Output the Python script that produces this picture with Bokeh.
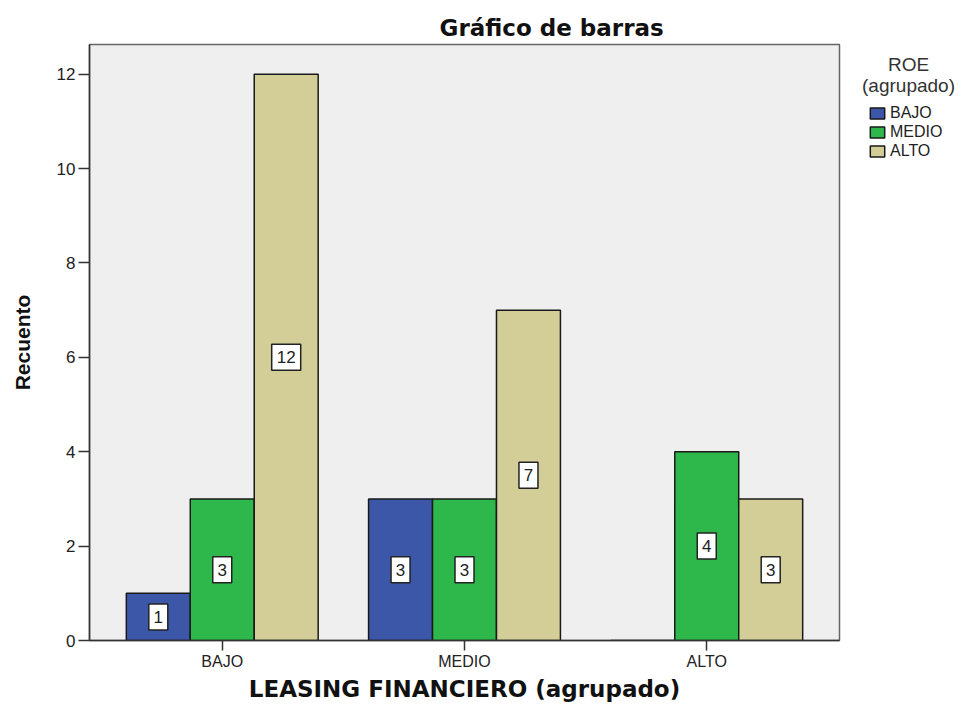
from bokeh.plotting import figure
from bokeh.layouts import row
from bokeh.models import (ColumnDataSource, Range1d, FixedTicker, Label, Legend,
                          LegendItem)
from bokeh.transform import dodge
from bokeh.core.properties import value
from bokeh.embed import file_html
from bokeh.resources import INLINE

# ---- data ----
categories = ["BAJO", "MEDIO", "ALTO"]          # LEASING FINANCIERO (agrupado)
series_names = ["BAJO", "MEDIO", "ALTO"]        # ROE (agrupado)
roe_bajo = [1, 3, 0]
roe_medio = [3, 3, 4]
roe_alto = [12, 7, 3]
y_ticks = [0, 2, 4, 6, 8, 10, 12]

colors = ["#3d57a8", "#2eb84b", "#d3ce98"]
bar_w = 0.264
offsets = [-bar_w, 0.0, bar_w]
xs = list(range(len(categories)))
keys = ["bajo", "medio", "alto"]

source = ColumnDataSource(dict(x=xs, bajo=roe_bajo, medio=roe_medio, alto=roe_alto))

p = figure(width=845, height=706, output_backend="svg", toolbar_location=None,
           x_range=Range1d(-0.548, len(categories) - 1 + 0.548),
           y_range=Range1d(0, 12.63),
           min_border_left=89, min_border_right=6, min_border_top=44,
           min_border_bottom=66)
p.background_fill_color = "#efefef"
p.border_fill_color = "white"
p.outline_line_color = "#666666"
p.outline_line_width = 1.5
p.xgrid.visible = False
p.ygrid.visible = False

# title
p.title.text = "Gráfico de barras"
p.title.align = "left"
p.title.offset = 350
p.title.text_font = "DejaVu Sans"
p.title.text_font_style = "bold"
p.title.text_font_size = "23px"
p.title.text_color = "#111111"
p.title.standoff = 8

for key, off, col in zip(keys, offsets, colors):
    p.vbar(x=dodge("x", off, range=p.x_range), top=key, width=bar_w, source=source,
           fill_color=col, line_color="#1a1a1a", line_width=1.5)

# value labels in boxes at half bar height
lx, ly, lt, lw = [], [], [], []
for off, vals in zip(offsets, [roe_bajo, roe_medio, roe_alto]):
    for i, v in enumerate(vals):
        if v > 0:
            lx.append(i + off)
            ly.append(v / 2)
            lt.append(str(v))
            lw.append(9 + 10 * len(str(v)))
lsrc = ColumnDataSource(dict(x=lx, y=ly, t=lt, w=lw))
p.rect(x="x", y="y", width="w", height=26, width_units="screen", height_units="screen",
       fill_color="white", line_color="#222222", line_width=1.5, source=lsrc)
p.text(x="x", y="y", text="t", text_align="center", text_baseline="middle",
       text_font=value("Liberation Sans"), text_font_size="17px", text_color="#222222",
       source=lsrc)

# axes
p.xaxis.ticker = FixedTicker(ticks=xs)
p.xaxis.major_label_overrides = {i: c for i, c in enumerate(categories)}
p.yaxis.ticker = FixedTicker(ticks=y_ticks)
for ax in (p.xaxis, p.yaxis):
    ax.minor_tick_line_color = None
    ax.axis_line_color = "#333333"
    ax.axis_line_width = 1.5
    ax.major_tick_line_color = "#333333"
    ax.major_tick_line_width = 1.5
    ax.major_tick_in = 0
    ax.major_label_text_font = "Liberation Sans"
    ax.major_label_text_color = "#222222"
p.xaxis.major_tick_out = 10
p.yaxis.major_tick_out = 11
p.xaxis.major_label_text_font_size = "16px"
p.yaxis.major_label_text_font_size = "17px"
p.xaxis.major_label_standoff = 2
p.yaxis.major_label_standoff = 3

p.xaxis.axis_label = "LEASING FINANCIERO (agrupado)"
p.xaxis.axis_label_text_font = "DejaVu Sans"
p.xaxis.axis_label_text_font_style = "bold"
p.xaxis.axis_label_text_font_size = "23px"
p.xaxis.axis_label_text_color = "#111111"
p.xaxis.axis_label_standoff = 3

p.yaxis.axis_label = "Recuento"
p.yaxis.axis_label_text_font = "Liberation Sans"
p.yaxis.axis_label_text_font_style = "bold"
p.yaxis.axis_label_text_font_size = "21px"
p.yaxis.axis_label_text_color = "#111111"
p.yaxis.axis_label_standoff = 20

# ---- legend panel (separate figure to the right; frame aligned with main frame) ----
lg = figure(width=120, height=706, output_backend="svg", toolbar_location=None,
            x_axis_location=None, y_axis_location=None,
            x_range=Range1d(0, 1), y_range=Range1d(-2, -1),
            min_border_left=0, min_border_right=0, min_border_top=44, min_border_bottom=66)
lg.outline_line_color = None
lg.background_fill_color = "white"
lg.border_fill_color = "white"
lg.xgrid.visible = False
lg.ygrid.visible = False

# same series, not shown here: they only feed the legend swatches
swatches = []
for key, off, col in zip(keys, offsets, colors):
    swatches.append(lg.vbar(x=dodge("x", off, range=lg.x_range), top=key, width=bar_w,
                            source=source, fill_color=col, line_color="#1a1a1a",
                            line_width=1.5, visible=False))

lg.add_layout(Label(x=63, y=576, x_units="screen", y_units="screen", text="ROE",
                    text_align="center", text_baseline="middle",
                    text_font="Liberation Sans", text_font_size="19px", text_color="#333333"))
lg.add_layout(Label(x=63, y=555, x_units="screen", y_units="screen", text="(agrupado)",
                    text_align="center", text_baseline="middle",
                    text_font="Liberation Sans", text_font_size="19px", text_color="#333333"))
legend = Legend(items=[LegendItem(label=n, renderers=[r]) for n, r in zip(series_names, swatches)],
                location=(23, 480), padding=0, margin=0, spacing=1,
                glyph_width=18, glyph_height=14, label_standoff=4,
                label_text_font="Liberation Sans", label_text_font_size="16px",
                label_text_color="#222222", border_line_alpha=0, background_fill_alpha=0,
                label_height=18)
lg.add_layout(legend)

layout = row(p, lg, spacing=0)
open("out.html", "w").write(file_html(layout, INLINE))
